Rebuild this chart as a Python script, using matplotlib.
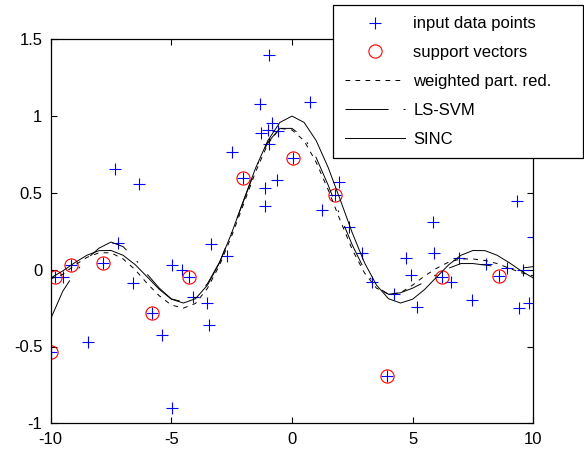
import numpy as np
import matplotlib
matplotlib.use("Agg")
import matplotlib.pyplot as plt

plt.rcParams['font.family'] = ['Liberation Sans', 'DejaVu Sans']
plt.rcParams['axes.unicode_minus'] = False
plt.rcParams['lines.scale_dashes'] = False

# input data points
data_x = [-10.0, -9.82, -9.48, -9.17, -8.44, -7.82, -7.33, -7.2, -6.58, -6.33,
          -5.81, -5.4, -4.99, -4.96, -4.57, -4.27, -4.09, -3.53, -3.43, -3.37,
          -2.71, -2.47, -2.04, -1.33, -1.3, -1.12, -1.12, -0.98, -0.94, -0.94,
          -0.84, -0.61, -0.57, 0.03, 0.75, 1.26, 1.77, 1.96, 2.36, 2.89,
          3.3, 3.95, 4.23, 4.72, 4.92, 5.19, 5.83, 5.88, 6.2, 6.58,
          6.93, 7.45, 8.04, 8.59, 8.9, 9.31, 9.42, 9.59, 9.84, 10.0]
data_y = [-0.534, -0.046, -0.046, 0.03, -0.47, 0.046, 0.654, 0.176, -0.085, 0.56,
          -0.284, -0.425, 0.03, -0.9, 0.0, -0.05, -0.18, -0.22, -0.36, 0.167,
          0.089, 0.764, 0.595, 1.08, 0.888, 0.534, 0.415, 0.91, 1.4, 0.82,
          0.957, 0.584, 0.9, 0.725, 1.09, 0.389, 0.484, 0.573, 0.28, 0.107,
          -0.08, -0.69, -0.158, 0.074, -0.035, -0.24, 0.31, 0.107, -0.05, -0.078,
          0.074, -0.197, 0.037, -0.041, 0.009, 0.45, -0.247, 0.0, -0.215, 0.21]

# support vectors
sv_x = [-10.0, -9.82, -9.17, -7.82, -5.81, -4.27, -2.04, 0.03, 1.77, 3.95, 6.2, 8.59]
sv_y = [-0.534, -0.046, 0.03, 0.046, -0.284, -0.05, 0.595, 0.725, 0.484, -0.69, -0.05, -0.041]

# curves sampled every 0.5 from -10 to 10
curve_x = [-10.0, -9.5, -9.0, -8.5, -8.0, -7.5, -7.0, -6.5, -6.0, -5.5,
           -5.0, -4.5, -4.0, -3.5, -3.0, -2.5, -2.0, -1.5, -1.0, -0.5,
           0.0, 0.5, 1.0, 1.5, 2.0, 2.5, 3.0, 3.5, 4.0, 4.5,
           5.0, 5.5, 6.0, 6.5, 7.0, 7.5, 8.0, 8.5, 9.0, 9.5, 10.0]
weighted_y = [-0.06, -0.03, 0.03, 0.08, 0.11, 0.11, 0.07, 0.0, -0.09, -0.17,
              -0.23, -0.25, -0.22, -0.12, 0.03, 0.22, 0.43, 0.64, 0.82, 0.92,
              0.91, 0.84, 0.7, 0.52, 0.32, 0.13, -0.02, -0.12, -0.16, -0.15,
              -0.1, -0.04, 0.01, 0.05, 0.07, 0.07, 0.06, 0.04, 0.01, -0.02, -0.04]
lssvm_y = [-0.32, -0.14, -0.02, 0.07, 0.14, 0.18, 0.15, 0.07, -0.03, -0.12,
           -0.19, -0.21, -0.18, -0.09, 0.05, 0.24, 0.45, 0.66, 0.83, 0.92,
           0.92, 0.86, 0.73, 0.55, 0.35, 0.16, 0.0, -0.11, -0.16, -0.15,
           -0.12, -0.08, -0.03, 0.01, 0.04, 0.04, 0.03, 0.02, 0.01, 0.01, 0.02]
sinc_y = [-0.054, -0.008, 0.046, 0.094, 0.124, 0.125, 0.094, 0.033, -0.047, -0.128,
          -0.192, -0.217, -0.189, -0.1, 0.047, 0.239, 0.455, 0.665, 0.841, 0.959,
          1.0, 0.959, 0.841, 0.665, 0.455, 0.239, 0.047, -0.1, -0.189, -0.217,
          -0.192, -0.128, -0.047, 0.033, 0.094, 0.125, 0.124, 0.094, 0.046, -0.008, -0.054]

fig = plt.figure(figsize=(5.84, 4.53), dpi=100)
ax = fig.add_axes([50.7 / 584, (453 - 423.3) / 453, 482.6 / 584, 384 / 453])

ax.plot(data_x, data_y, '+', color='blue', markersize=9, markeredgewidth=0.8,
        label='input data points')
ax.plot(sv_x, sv_y, 'o', color='red', markerfacecolor='none', markersize=9.5,
        markeredgewidth=0.8, label='support vectors')
ax.plot(curve_x, weighted_y, color='black', lw=0.7, linestyle=(0, (3.4, 3.8)),
        label='weighted part. red.')
ax.plot(curve_x, lssvm_y, color='black', lw=0.7,
        linestyle=(0, (31, 10.8, 1.4, 10.8)), label='LS-SVM')
ax.plot(curve_x, sinc_y, color='black', lw=0.7, label='SINC')

ax.set_xlim(-10, 10)
ax.set_ylim(-1, 1.5)
ax.set_xticks([-10, -5, 0, 5, 10])
ax.set_xticklabels(['-10', '-5', '0', '5', '10'])
ax.set_yticks([-1, -0.5, 0, 0.5, 1, 1.5])
ax.set_yticklabels(['-1', '-0.5', '0', '0.5', '1', '1.5'])
ax.tick_params(direction='in', top=True, right=True, length=4, width=0.8,
               labelsize=12, pad=6)
for s in ax.spines.values():
    s.set_linewidth(0.9)

leg = ax.legend(loc='upper left', bbox_to_anchor=(0.5856, 0.696, 0.518, 0.394),
                mode='expand', borderaxespad=0, fontsize=12, handlelength=3.6,
                handletextpad=0.5, borderpad=0.7, labelspacing=0.83,
                fancybox=False, framealpha=1, edgecolor='black')
leg.get_frame().set_linewidth(0.9)

fig.savefig('out.png', dpi=100)
